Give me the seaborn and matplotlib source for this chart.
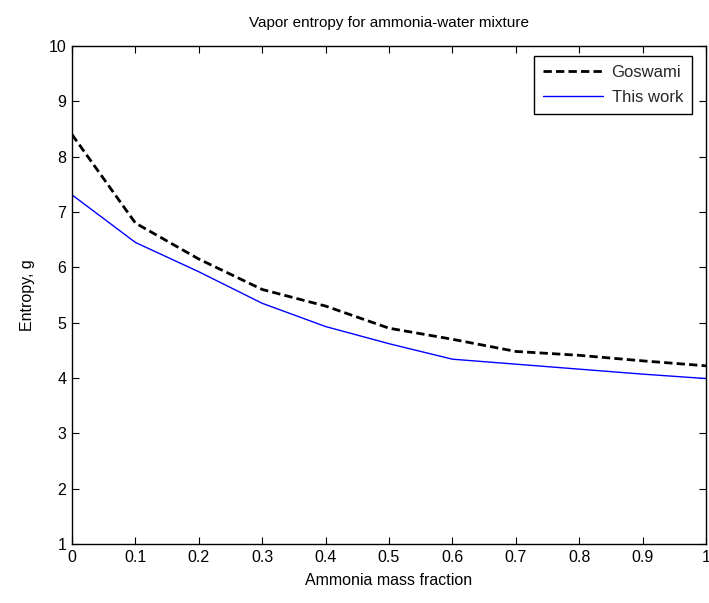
import matplotlib
matplotlib.use("Agg")
import matplotlib.pyplot as plt
import seaborn as sns
import pandas as pd

x_vals = [0.0, 0.1, 0.2, 0.3, 0.4, 0.5, 0.6, 0.7, 0.8, 0.9, 1.0]
goswami = [8.40, 6.80, 6.15, 5.60, 5.30, 4.90, 4.70, 4.48, 4.41, 4.31, 4.22]
this_work = [7.31, 6.45, 5.92, 5.35, 4.93, 4.62, 4.34, 4.25, 4.16, 4.07, 3.99]
series_names = ["Goswami", "This work"]
x_ticks = [0, 0.1, 0.2, 0.3, 0.4, 0.5, 0.6, 0.7, 0.8, 0.9, 1]
x_ticklabels = ["0", "0.1", "0.2", "0.3", "0.4", "0.5", "0.6", "0.7", "0.8", "0.9", "1"]
y_ticks = [1, 2, 3, 4, 5, 6, 7, 8, 9, 10]

sns.set_theme(style="white")
plt.rcParams["font.family"] = ["Liberation Sans", "DejaVu Sans"]

df = pd.DataFrame({
    "x": x_vals * 2,
    "y": goswami + this_work,
    "series": [series_names[0]] * len(x_vals) + [series_names[1]] * len(x_vals),
})

fig = plt.figure(figsize=(7.09, 6.03), dpi=100)
ax = fig.add_axes([72 / 709, 59 / 603, 634 / 709, 498 / 603])

sns.lineplot(data=df, x="x", y="y", hue="series", style="series",
             palette={"Goswami": "black", "This work": "#0000ff"},
             dashes={"Goswami": (3, 1.5), "This work": ""},
             ax=ax, legend=False)
lines = ax.get_lines()
lines[0].set_linewidth(2.0)
lines[1].set_linewidth(1.0)

ax.set_xlim(0, 1)
ax.set_ylim(1, 10)
ax.set_xticks(x_ticks)
ax.set_xticklabels(x_ticklabels)
ax.set_yticks(y_ticks)
ax.tick_params(direction="in", length=5, width=0.8, top=True, right=True,
               bottom=True, left=True, labelsize=11.5, colors="black", pad=4)
for s in ax.spines.values():
    s.set_visible(True)
    s.set_color("black")
    s.set_linewidth(1.0)

ax.set_xlabel("Ammonia mass fraction", fontsize=11.5, color="black", labelpad=6)
ax.set_ylabel("Entropy, g", fontsize=11.5, color="black", labelpad=10)
ax.set_title("Vapor entropy for ammonia-water mixture", fontsize=11, color="black", pad=14)

leg = ax.legend(lines, series_names, loc="upper right", bbox_to_anchor=(0.978, 0.98),
                borderaxespad=0, fancybox=False, framealpha=1, edgecolor="black",
                fontsize=12, handlelength=3.6, handletextpad=0.5, borderpad=0.55,
                labelspacing=0.6)
leg.get_frame().set_linewidth(1.0)

fig.savefig("out.png", dpi=100, facecolor="white")
